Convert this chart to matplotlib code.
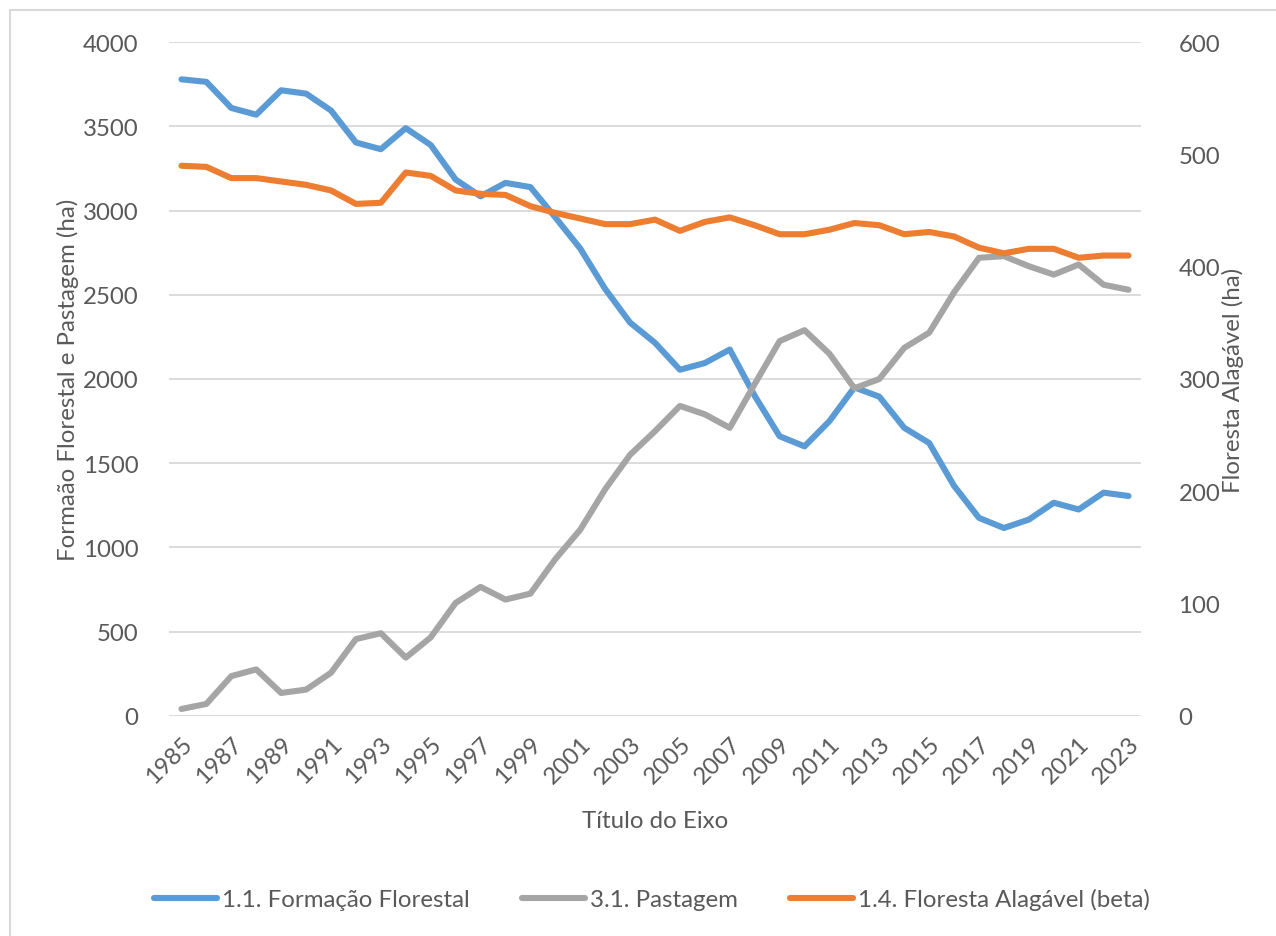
import matplotlib
matplotlib.use("Agg")
import matplotlib.pyplot as plt
from matplotlib.patches import Rectangle
import matplotlib.transforms as mtransforms

years = list(range(1985, 2024))
formacao_florestal = [3780, 3765, 3610, 3570, 3715, 3695, 3595, 3405, 3365, 3490, 3390,
                      3185, 3085, 3165, 3140, 2960, 2775, 2535, 2335, 2215, 2055, 2095,
                      2175, 1900, 1660, 1600, 1750, 1950, 1895, 1710, 1620, 1365, 1175,
                      1115, 1165, 1265, 1225, 1325, 1305]
pastagem = [40, 70, 235, 275, 135, 155, 255, 455, 490, 345, 465, 670, 765, 690, 725,
            930, 1105, 1345, 1550, 1690, 1840, 1790, 1710, 1970, 2225, 2290, 2150, 1945,
            2000, 2185, 2275, 2515, 2720, 2730, 2670, 2620, 2680, 2560, 2530]
floresta_alagavel = [490, 489, 479, 479, 476, 473, 468, 456, 457, 484, 481, 468, 465,
                     464, 454, 448, 443, 438, 438, 442, 432, 440, 444, 437, 429, 429,
                     433, 439, 437, 429, 431, 427, 417, 412, 416, 416, 408, 410, 410]
tick_years = years[::2]

legend_labels = ["1.1. Formação Florestal", "3.1. Pastagem", "1.4. Floresta Alagável (beta)"]
left_ylabel = "Formaão Florestal e Pastagem (ha)"
right_ylabel = "Floresta Alagável (ha)"
xlabel = "Título do Eixo"

plt.rcParams['font.family'] = ['Lato', 'DejaVu Sans']
TXT = "#595959"
FS = 17.3

W, H = 1276, 937
fig = plt.figure(figsize=(W / 100, H / 100), dpi=100)
fig.patch.set_facecolor("white")

# outer chart border
fig.patches.append(Rectangle((10 / W, -0.1), 1.2, 1 - 11 / H + 0.1, transform=fig.transFigure,
                             fill=False, edgecolor="#d9d9d9", linewidth=1.5))

L, R, T, B = 169, 1141, 43.3, 716.7
ax = fig.add_axes([L / W, 1 - B / H, (R - L) / W, (B - T) / H])
ax2 = ax.twinx()

l1, = ax.plot(years, formacao_florestal, color="#5B9BD5", linewidth=4.4,
              solid_capstyle="round", solid_joinstyle="round", zorder=3)
l2, = ax.plot(years, pastagem, color="#A5A5A5", linewidth=4.4,
              solid_capstyle="round", solid_joinstyle="round", zorder=3)
l3, = ax2.plot(years, floresta_alagavel, color="#ED7D31", linewidth=4.4,
               solid_capstyle="round", solid_joinstyle="round", zorder=3)

ax.set_xlim(1984.5, 2023.5)
ax.set_ylim(0, 4000)
ax2.set_ylim(0, 600)
ax.set_yticks(range(0, 4001, 500))
ax2.set_yticks(range(0, 601, 100))
ax.set_xticks(tick_years)
ax.set_xticklabels([str(y) for y in tick_years], rotation=45, ha="right",
                   rotation_mode="anchor")
offset = mtransforms.ScaledTranslation(8 / 100, 0, fig.dpi_scale_trans)
for lab in ax.get_xticklabels():
    lab.set_transform(lab.get_transform() + offset)

ax.grid(axis="y", color="#d9d9d9", linewidth=1.3, zorder=0)
ax.set_axisbelow(True)
for a in (ax, ax2):
    for s in a.spines.values():
        s.set_visible(False)
    a.tick_params(length=0, labelsize=FS, labelcolor=TXT)
ax.tick_params(axis="y", pad=22)
ax.tick_params(axis="x", pad=12)
ax2.tick_params(axis="y", pad=27)

fig.text(68 / W, 1 - 380 / H, left_ylabel, rotation=90, ha="center", va="center",
         fontsize=FS, color=TXT)
fig.text(1233 / W, 1 - 380 / H, right_ylabel, rotation=90, ha="center", va="center",
         fontsize=FS, color=TXT)
fig.text(655 / W, 1 - 822 / H, xlabel, ha="center", va="center", fontsize=FS, color=TXT)

leg = fig.legend([l1, l2, l3], legend_labels, loc="center", ncol=3,
                 bbox_to_anchor=(652 / W, 1 - 900 / H), frameon=False, fontsize=FS,
                 handlelength=2.6, handletextpad=0.2, columnspacing=2.2)
for t in leg.get_texts():
    t.set_color(TXT)

fig.savefig("out.png", dpi=100, facecolor="white")
